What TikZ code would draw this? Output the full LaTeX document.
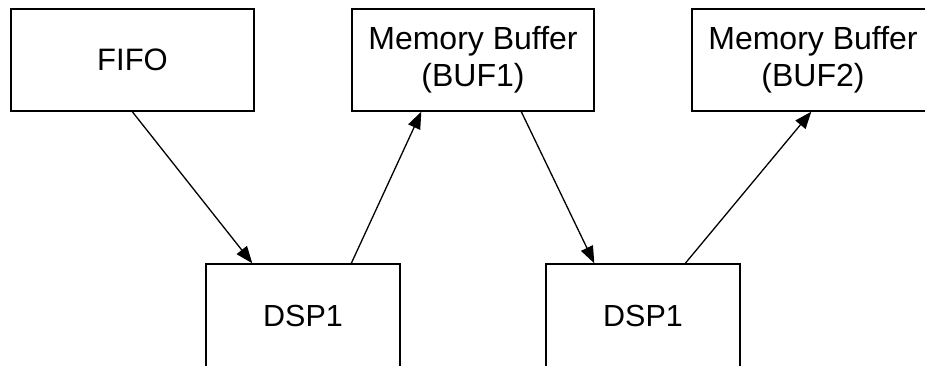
\documentclass[tikz,border=0pt]{standalone}
\usepackage{fontspec}
\setmainfont{Liberation Sans}
\usetikzlibrary{arrows.meta}
\begin{document}
\begin{tikzpicture}[x=1pt,y=-1pt,
  blk/.style={draw, line width=1.4pt, inner sep=0pt, align=center},
  top/.style={blk, minimum width=242pt, minimum height=102pt, font=\fontsize{32}{37}\selectfont},
  dsp/.style={blk, minimum width=194pt, minimum height=104pt, font=\fontsize{30.5}{36}\selectfont},
  arr/.style={line width=1.3pt, -{Triangle[length=17pt,width=13pt]}}]
\useasboundingbox (0,0) rectangle (925,366);
\clip (0,0) rectangle (925,366);
\node[top, font=\fontsize{31}{37}\selectfont, minimum width=243pt] (fifo) at (132.5,60) {FIFO};
\node[top] (bufa) at (473,60) {Memory Buffer\\(BUF1)};
\node[top] (bufb) at (813,60) {Memory Buffer\\(BUF2)};
\node[dsp] (dspa) at (303,316) {DSP1};
\node[dsp] (dspb) at (643,316) {DSP1};
\draw[arr] ([xshift=122pt]fifo.south west) -- ([xshift=47pt]dspa.north west);
\draw[arr] ([xshift=146pt]dspa.north west) -- ([xshift=70pt]bufa.south west);
\draw[arr] ([xshift=170pt]bufa.south west) -- ([xshift=49pt]dspb.north west);
\draw[arr] ([xshift=140pt]dspb.north west) -- ([xshift=120pt]bufb.south west);
\end{tikzpicture}
\end{document}
